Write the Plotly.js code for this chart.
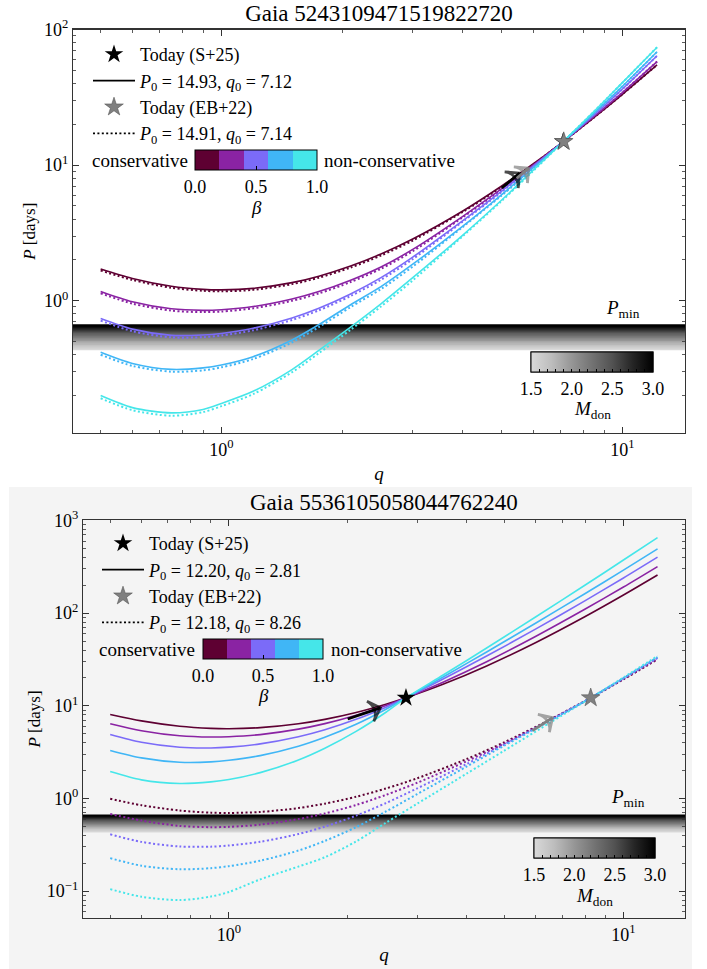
<!DOCTYPE html>
<html><head><meta charset="utf-8">
<script src="https://cdn.plot.ly/plotly-3.0.1.min.js"></script>
<style>html,body{margin:0;padding:0;background:#fff}#chart{width:707px;height:969px}</style>
</head><body><div id="chart"></div>
<script>
// ---------------- data ----------------
const betaValues = [0, 0.25, 0.5, 0.75, 1.0];
const betaColors = ['#5e0032', '#8a23a3', '#7b6bf8', '#40b6f6', '#45e6e9'];

// Top panel: Gaia 5243109471519822720
const qTop = [0.5, 0.6, 0.75, 0.9, 1.0, 1.2, 1.5, 1.75, 2.1, 2.5, 3.0, 4.0, 5.0, 6.0, 7.12, 8.5, 10.0, 12.2];
const topSolidB000 = [1.714, 1.460, 1.280, 1.214, 1.204, 1.234, 1.360, 1.517, 1.802, 2.211, 2.85, 4.59, 7.02, 10.24, 14.93, 22.5, 33.3, 54.8];
const topSolidB025 = [1.17, 0.982, 0.872, 0.85, 0.859, 0.906, 1.03, 1.168, 1.417, 1.774, 2.39, 4.19, 6.70, 10.04, 14.93, 22.84, 34.3, 58.0];
const topSolidB050 = [0.74, 0.618, 0.556, 0.559, 0.574, 0.627, 0.747, 0.881, 1.123, 1.482, 2.10, 3.90, 6.44, 9.89, 14.93, 23.45, 36.4, 64.1];
const topSolidB075 = [0.417, 0.345, 0.312, 0.320, 0.336, 0.387, 0.514, 0.667, 0.935, 1.27, 1.86, 3.55, 6.07, 9.58, 14.93, 24.2, 38.1, 68.5];
const topSolidB100 = [0.200, 0.163, 0.149, 0.158, 0.175, 0.215, 0.311, 0.43, 0.64, 0.95, 1.48, 3.05, 5.53, 9.2, 14.93, 24.9, 40.6, 74.0];
const topDotB000 = [1.671, 1.424, 1.248, 1.184, 1.174, 1.203, 1.326, 1.479, 1.757, 2.156, 2.779, 4.52, 6.91, 10.14, 14.91, 22.5, 33.3, 54.9];
const topDotB025 = [1.135, 0.953, 0.846, 0.825, 0.833, 0.879, 0.999, 1.133, 1.374, 1.721, 2.318, 4.13, 6.60, 9.94, 14.91, 22.8, 34.3, 58.0];
const topDotB050 = [0.714, 0.596, 0.537, 0.539, 0.554, 0.605, 0.721, 0.850, 1.084, 1.430, 2.027, 3.84, 6.34, 9.79, 14.91, 23.4, 36.4, 64.1];
const topDotB075 = [0.400, 0.331, 0.300, 0.307, 0.323, 0.372, 0.493, 0.640, 0.898, 1.219, 1.786, 3.50, 5.98, 9.48, 14.91, 24.2, 38.1, 68.5];
const topDotB100 = [0.191, 0.156, 0.142, 0.151, 0.167, 0.205, 0.297, 0.411, 0.611, 0.907, 1.413, 3.00, 5.45, 9.1, 14.91, 24.9, 40.6, 74.0];
const topStarS25 = [7.12, 14.93];
const topStarEB22 = [7.14, 14.91];
const topArrowBlack = [[5.0, 6.78], [5.54, 8.73]];   // [tail, tip] as [q, P]
const topArrowGrey = [[5.45, 8.0], [5.84, 9.5]];

// Bottom panel: Gaia 5536105058044762240
const qBotSolid = [0.5, 0.6, 0.75, 0.9, 1.0, 1.2, 1.5, 1.75, 2.1, 2.5, 2.81, 3.5, 4.5, 6.0, 8.0, 10.0, 12.2];
const botSolidB000 = [8.07, 6.87, 6.02, 5.71, 5.66, 5.81, 6.40, 7.14, 8.48, 10.41, 12.2, 17.14, 26.9, 48.2, 91.9, 156.8, 257.8];
const botSolidB025 = [6.4, 5.39, 4.75, 4.6, 4.64, 4.89, 5.6, 6.42, 7.91, 10.07, 12.2, 18.1, 29.9, 56.3, 110.7, 191.2, 317.6];
const botSolidB050 = [4.9, 4.04, 3.57, 3.51, 3.58, 3.88, 4.63, 5.51, 7.14, 9.66, 12.2, 19.57, 34.4, 67.6, 136.6, 239.6, 402];
const botSolidB075 = [3.3, 2.74, 2.46, 2.48, 2.58, 2.90, 3.66, 4.57, 6.31, 9.17, 12.2, 20.6, 38.1, 78.3, 163.0, 291.1, 493];
const botSolidB100 = [1.95, 1.586, 1.45, 1.51, 1.60, 1.90, 2.60, 3.48, 5.29, 8.52, 12.2, 21.6, 42.0, 91.3, 201, 374, 653];
const qBotDot = [0.5, 0.6, 0.75, 0.9, 1.0, 1.2, 1.5, 1.75, 2.1, 2.5, 3.0, 4.0, 5.0, 6.5, 8.26, 10.0, 12.2];
const botDotB000 = [0.992, 0.845, 0.741, 0.703, 0.697, 0.715, 0.788, 0.879, 1.044, 1.281, 1.652, 2.66, 4.06, 7.06, 12.18, 19.3, 31.7];
const botDotB025 = [0.68, 0.577, 0.506, 0.49, 0.494, 0.522, 0.599, 0.688, 0.85, 1.093, 1.476, 2.52, 3.94, 7.0, 12.18, 19.5, 32.2];
const botDotB050 = [0.41, 0.34, 0.303, 0.302, 0.311, 0.341, 0.413, 0.497, 0.652, 0.892, 1.285, 2.35, 3.84, 6.95, 12.18, 19.7, 32.8];
const botDotB075 = [0.227, 0.188, 0.172, 0.177, 0.186, 0.213, 0.274, 0.348, 0.49, 0.724, 1.115, 2.205, 3.74, 6.85, 12.18, 19.9, 33.5];
const botDotB100 = [0.105, 0.087, 0.080, 0.0874, 0.098, 0.134, 0.184, 0.232, 0.344, 0.547, 0.878, 1.85, 3.30, 6.54, 12.18, 20.2, 34.5];
const botStarS25 = [2.81, 12.20];
const botStarEB22 = [8.26, 12.18];
const botArrowBlack = [[2.0, 7.2], [2.42, 9.5]];
const botArrowGrey = [[5.88, 5.4], [6.61, 7.46]];

// Minimum period band vs donor mass
const mDon = [1.5, 1.6, 1.7, 1.8, 1.9, 2.0, 2.1, 2.2, 2.3, 2.4, 2.5, 2.6, 2.7, 2.8, 2.9, 3.0];
const pMin = [0.44, 0.455, 0.47, 0.485, 0.50, 0.515, 0.53, 0.545, 0.56, 0.575, 0.59, 0.603, 0.616, 0.629, 0.643, 0.656];

const legendTop = ['Today (S+25)', '<i>P</i><sub>0</sub> = 14.93, <i>q</i><sub>0</sub> = 7.12', 'Today (EB+22)', '<i>P</i><sub>0</sub> = 14.91, <i>q</i><sub>0</sub> = 7.14'];
const legendBot = ['Today (S+25)', '<i>P</i><sub>0</sub> = 12.20, <i>q</i><sub>0</sub> = 2.81', 'Today (EB+22)', '<i>P</i><sub>0</sub> = 12.18, <i>q</i><sub>0</sub> = 8.26'];
const yTickValsTop = [1, 10, 100];
const yTickTextTop = ['10<sup>0</sup>', '10<sup>1</sup>', '10<sup>2</sup>'];
const yTickValsBot = [0.1, 1, 10, 100, 1000];
const yTickTextBot = ['10<sup>\u22121</sup>', '10<sup>0</sup>', '10<sup>1</sup>', '10<sup>2</sup>', '10<sup>3</sup>'];
const xTickVals = [1, 10];
const xTickText = ['10<sup>0</sup>', '10<sup>1</sup>'];
const betaTickVals = [0, 0.5, 1.0];
const betaTickText = ['0.0', '0.5', '1.0'];
const mDonLabelVals = [1.5, 2.0, 2.5, 3.0];
const mDonLabelText = ['1.5', '2.0', '2.5', '3.0'];
const mDonTickVals = [1.5, 1.6, 1.7, 1.8, 1.9, 2.0, 2.1, 2.2, 2.3, 2.4, 2.5, 2.6, 2.7, 2.8, 2.9, 3.0];

// ---------------- helpers ----------------
const W = 707, H = 969;
const FONT = 'Liberation Serif';
const px = v => v / W, py = v => 1 - v / H;
const greyStops = [[0, [217,217,217]], [1/6, [189,189,189]], [2/6, [150,150,150]], [3/6, [115,115,115]], [4/6, [82,82,82]], [5/6, [37,37,37]], [1, [0,0,0]]];
const greyScale = greyStops.map(s => [s[0], 'rgb(' + s[1].join(',') + ')']);
function greyAt(m) {
  const t = Math.min(1, Math.max(0, (m - 1.5) / 1.5));
  for (let i = 1; i < greyStops.length; i++) {
    if (t <= greyStops[i][0]) {
      const a = greyStops[i-1], b = greyStops[i];
      const f = (t - a[0]) / (b[0] - a[0]);
      const c = a[1].map((v, k) => Math.round(v + f * (b[1][k] - v)));
      return 'rgb(' + c.join(',') + ')';
    }
  }
  return 'rgb(0,0,0)';
}
const betaScale = [];
betaColors.forEach((c, i) => { betaScale.push([i / 5, c]); betaScale.push([(i + 1) / 5, c]); });
function minorVals() { const v = []; for (let e = -2; e <= 3; e++) for (let d = 2; d <= 9; d++) v.push(+(d * Math.pow(10, e)).toPrecision(3)); return v; }

// ---------------- traces ----------------
const traces = [];
function addCurves(q, sets, xa, ya, dotted) {
  sets.forEach((P, i) => {
    traces.push({
      x: q, y: P, xaxis: xa, yaxis: ya, mode: 'lines', showlegend: false, hoverinfo: 'skip',
      line: { color: betaColors[i], width: dotted ? 2.0 : 1.6, dash: dotted ? '2px,2.4px' : 'solid', shape: 'spline', smoothing: 0.8 }
    });
  });
}
addCurves(qTop, [topDotB000, topDotB025, topDotB050, topDotB075, topDotB100], 'x', 'y', true);
addCurves(qTop, [topSolidB000, topSolidB025, topSolidB050, topSolidB075, topSolidB100], 'x', 'y', false);
addCurves(qBotDot, [botDotB000, botDotB025, botDotB050, botDotB075, botDotB100], 'x2', 'y2', true);
addCurves(qBotSolid, [botSolidB000, botSolidB025, botSolidB050, botSolidB075, botSolidB100], 'x2', 'y2', false);

// evolution arrows: a segment with an open arrow head oriented along it
function addArrow(a, xa, ya, color) {
  traces.push({ x: [a[0][0], a[1][0]], y: [a[0][1], a[1][1]], xaxis: xa, yaxis: ya, mode: 'lines+markers', showlegend: false, hoverinfo: 'skip',
    line: { color: color, width: 2.8 },
    marker: { symbol: 'arrow-wide-open', angleref: 'previous', size: [0, 15], color: color, line: { color: color, width: 2.8 } } });
}
addArrow(topArrowBlack, 'x', 'y', '#000000');
addArrow(topArrowGrey, 'x', 'y', '#808080');
addArrow(botArrowBlack, 'x2', 'y2', '#000000');
addArrow(botArrowGrey, 'x2', 'y2', '#808080');

function addStarsAndLegend(s25, eb22, names, xa, ya, leg) {
  traces.push({ x: [s25[0]], y: [s25[1]], xaxis: xa, yaxis: ya, mode: 'markers', name: names[0], legend: leg, legendrank: 1,
    marker: { symbol: 'star', size: 14, color: '#000000', line: { width: 0 } }, hoverinfo: 'skip' });
  traces.push({ x: [null], y: [null], xaxis: xa, yaxis: ya, mode: 'lines', name: names[1], legend: leg, legendrank: 2,
    line: { color: '#000000', width: 1.6 }, hoverinfo: 'skip' });
  traces.push({ x: [eb22[0]], y: [eb22[1]], xaxis: xa, yaxis: ya, mode: 'markers', name: names[2], legend: leg, legendrank: 3,
    marker: { symbol: 'star', size: 14, color: '#808080', line: { width: 0.6, color: '#555555' } }, hoverinfo: 'skip' });
  traces.push({ x: [null], y: [null], xaxis: xa, yaxis: ya, mode: 'lines', name: names[3], legend: leg, legendrank: 4,
    line: { color: '#000000', width: 1.6, dash: '2px,2.4px' }, hoverinfo: 'skip' });
}
addStarsAndLegend(topStarS25, topStarEB22, legendTop, 'x', 'y', 'legend');
addStarsAndLegend(botStarS25, botStarEB22, legendBot, 'x2', 'y2', 'legend2');

function cb(pos, extra) {
  return Object.assign({ orientation: 'h', x: px(pos[0]), y: py(pos[1]), xanchor: 'left', yanchor: 'top',
    len: pos[2], lenmode: 'pixels', thickness: 20, thicknessmode: 'pixels', xpad: 0, ypad: 0,
    outlinewidth: 1, outlinecolor: '#000', tickcolor: '#000', tickwidth: 1, tickmode: 'array',
    ticklabelposition: 'outside bottom', tickfont: { size: 18, family: FONT } }, extra);
}
function addColorbars(xa, ya, betaPos, mPos) {
  traces.push({ x: [null], y: [null], xaxis: xa, yaxis: ya, mode: 'markers', showlegend: false, hoverinfo: 'skip',
    marker: { color: [0.5], cmin: 0, cmax: 1, colorscale: betaScale, showscale: true,
      colorbar: cb(betaPos, { ticks: 'inside', ticklen: 4, tickvals: betaTickVals, ticktext: betaTickText }) } });
  traces.push({ x: [null], y: [null], xaxis: xa, yaxis: ya, mode: 'markers', showlegend: false, hoverinfo: 'skip',
    marker: { color: [2], cmin: 1.5, cmax: 3.0, colorscale: greyScale, showscale: true,
      colorbar: cb(mPos, { ticks: '', tickvals: mDonLabelVals, ticktext: mDonLabelText }) } });
  traces.push({ x: [null], y: [null], xaxis: xa, yaxis: ya, mode: 'markers', showlegend: false, hoverinfo: 'skip',
    marker: { color: [2], cmin: 1.5, cmax: 3.0, colorscale: greyScale, showscale: true,
      colorbar: cb(mPos, { ticks: 'inside', ticklen: 3, tickvals: mDonTickVals, showticklabels: false }) } });
}
addColorbars('x', 'y', [195, 150, 122], [531, 352, 122]);
addColorbars('x2', 'y2', [203, 639, 120], [534, 838, 121]);

// ---------------- layout ----------------
const axisLine = '#333333';
function axis(extra) {
  return Object.assign({
    type: 'log', showline: true, linecolor: axisLine, linewidth: 1.2, mirror: 'allticks',
    ticks: 'inside', ticklen: 6, tickwidth: 1, tickcolor: axisLine, showgrid: false, zeroline: false,
    tickmode: 'array', tickfont: { size: 18, family: FONT },
    minor: { tickmode: 'array', tickvals: minorVals(), ticks: 'inside', ticklen: 3, tickwidth: 0.8, tickcolor: axisLine, showgrid: false }
  }, extra);
}
const shapes = [
  { type: 'rect', xref: 'paper', yref: 'paper', x0: px(9), x1: px(692), y0: 0, y1: py(487), fillcolor: '#f4f4f4', line: { width: 0 }, layer: 'below' }
];
[['x domain', 'y', 2.5], ['x2 domain', 'y2', 2.0]].forEach(([xr, yr, w]) => {
  mDon.forEach((m, i) => {
    shapes.push({ type: 'line', xref: xr, yref: yr, x0: 0, x1: 1, y0: pMin[i], y1: pMin[i],
      line: { color: greyAt(m), width: w }, layer: 'below' });
  });
});

const ann = [];
function txt(x, y, text, xanchor, extra) {
  ann.push(Object.assign({ xref: 'paper', yref: 'paper', x: px(x), y: py(y), text, showarrow: false, xanchor: xanchor || 'center', yanchor: 'middle', font: { size: 19, family: FONT } }, extra || {}));
}
txt(190, 160, 'conservative', 'right');
txt(322, 160, 'non-conservative', 'left');
txt(256, 207, '<i>β</i>');
txt(592, 410, '<i>M</i><sub>don</sub>');
txt(197, 649, 'conservative', 'right');
txt(329, 649, 'non-conservative', 'left');
txt(263, 695, '<i>β</i>');
txt(594, 897, '<i>M</i><sub>don</sub>');
txt(384, 502, 'Gaia 5536105058044762240', 'center', { font: { size: 23, family: FONT } });
ann.push({ xref: 'x domain', yref: 'y', x: 0.899, xanchor: 'center', y: Math.log10(pMin[pMin.length - 1]), yanchor: 'bottom', yshift: 3, text: '<i>P</i><sub>min</sub>', showarrow: false, font: { size: 19, family: FONT } });
ann.push({ xref: 'x2 domain', yref: 'y2', x: 0.905, xanchor: 'center', y: Math.log10(pMin[pMin.length - 1]), yanchor: 'bottom', yshift: 3, text: '<i>P</i><sub>min</sub>', showarrow: false, font: { size: 19, family: FONT } });

const legendCommon = { xanchor: 'left', yanchor: 'top', bgcolor: 'rgba(0,0,0,0)', borderwidth: 0, itemwidth: 42, font: { size: 18, family: FONT }, traceorder: 'normal', tracegroupgap: 0 };

const layout = {
  width: W, height: H, margin: { l: 0, r: 0, t: 0, b: 0 },
  paper_bgcolor: '#ffffff', plot_bgcolor: 'rgba(0,0,0,0)',
  font: { family: FONT, size: 18, color: '#000000' },
  title: { text: 'Gaia 5243109471519822720', x: px(379), xanchor: 'center', y: py(13), yanchor: 'middle', font: { size: 23, family: FONT } },
  showlegend: true,
  legend: Object.assign({ x: px(88), y: py(36) }, legendCommon),
  legend2: Object.assign({ x: px(97), y: py(525) }, legendCommon),
  xaxis: axis({ domain: [px(73), px(685)], range: [-0.37, 1.156], anchor: 'y', tickvals: xTickVals, ticktext: xTickText, title: { text: '<i>q</i>', standoff: 8, font: { size: 19, family: FONT } } }),
  yaxis: axis({ domain: [py(433), py(29.5)], range: [-0.975, 2.0], anchor: 'x', tickvals: yTickValsTop, ticktext: yTickTextTop, title: { text: '<i>P</i> [days]', standoff: 4, font: { size: 17, family: FONT } } }),
  xaxis2: axis({ domain: [px(83), px(685)], range: [-0.37, 1.156], anchor: 'y2', tickvals: xTickVals, ticktext: xTickText, title: { text: '<i>q</i>', standoff: 4, font: { size: 19, family: FONT } } }),
  yaxis2: axis({ domain: [py(918), py(520)], range: [-1.29, 3.005], anchor: 'x2', tickvals: yTickValsBot, ticktext: yTickTextBot, title: { text: '<i>P</i> [days]', standoff: 1, font: { size: 17, family: FONT } } }),
  shapes: shapes,
  annotations: ann,
  hovermode: false
};

Plotly.newPlot('chart', traces, layout, { staticPlot: true, displayModeBar: false });
</script>
</body></html>
